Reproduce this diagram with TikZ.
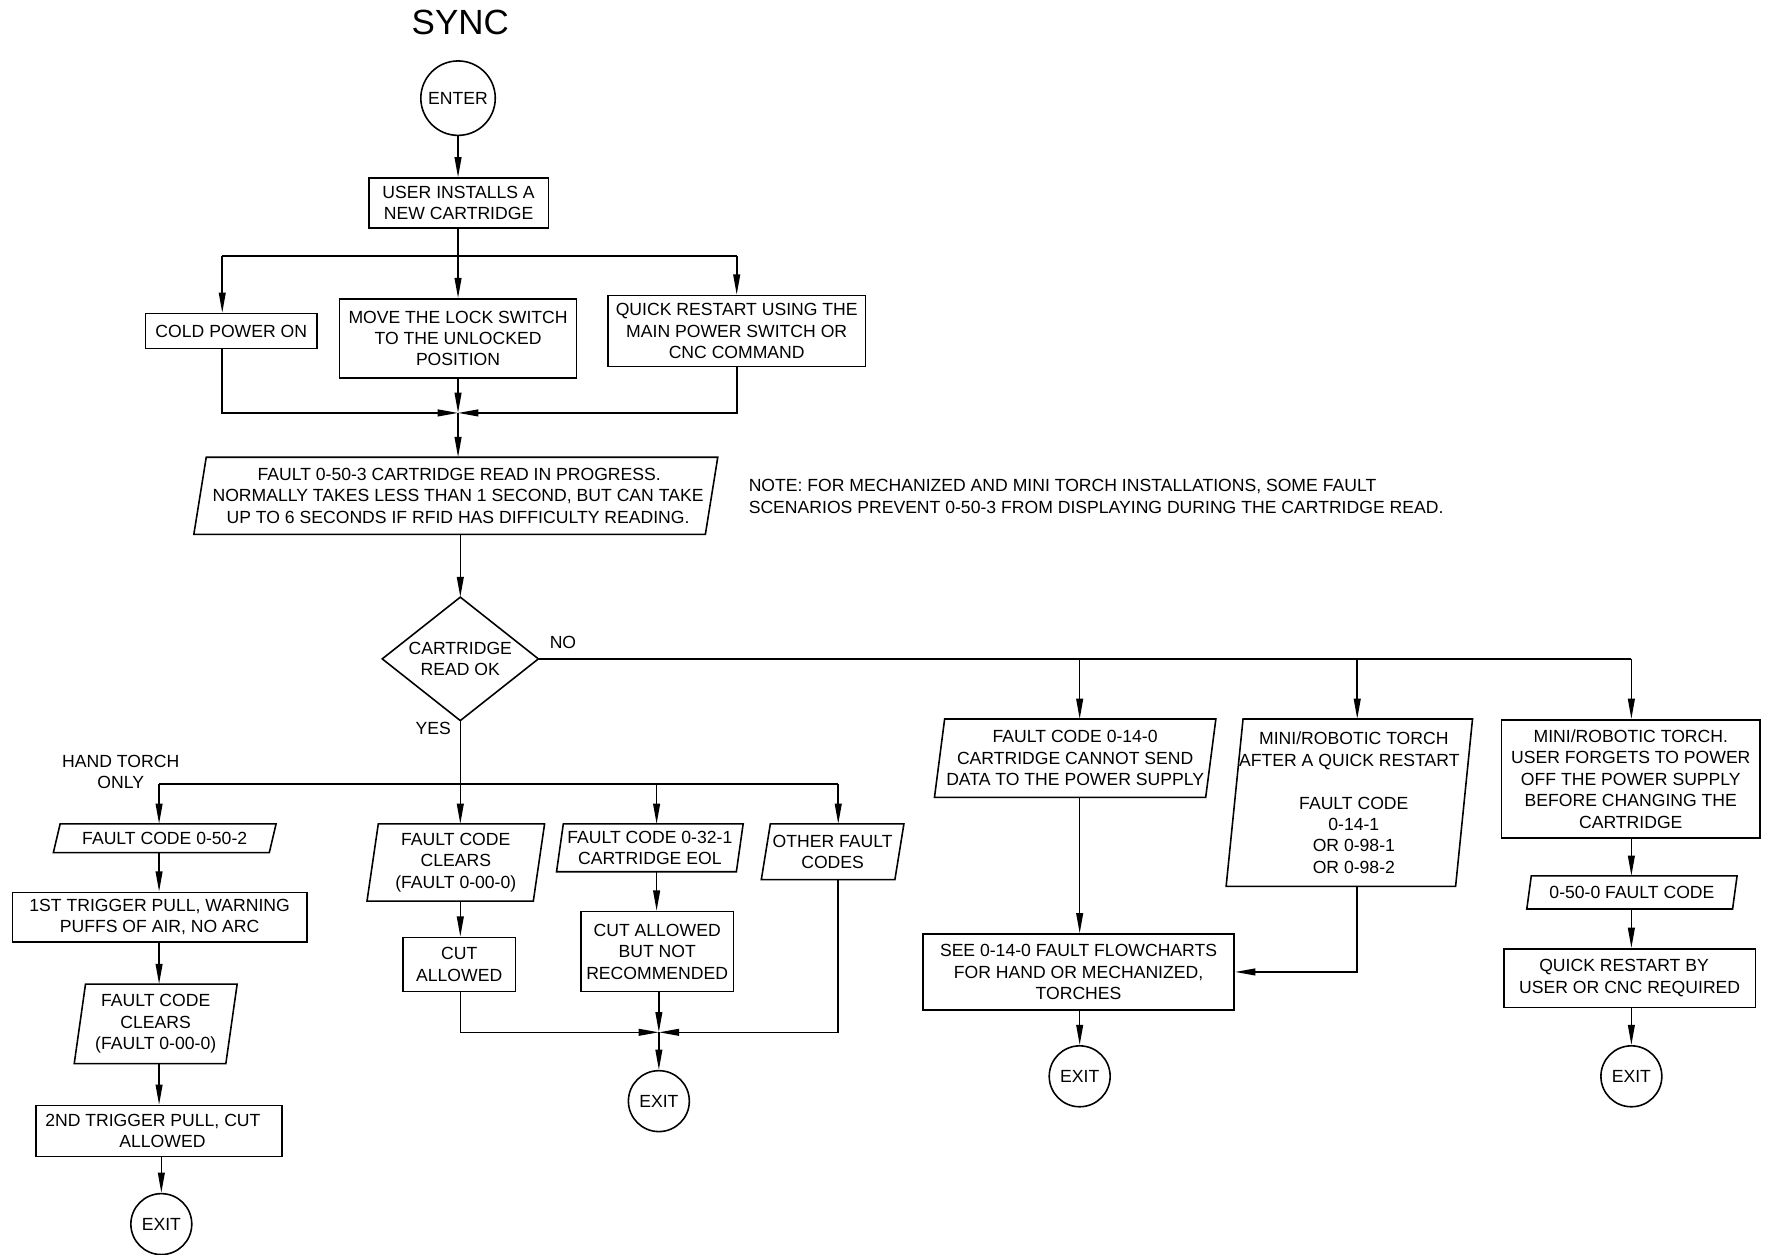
\documentclass[tikz,border=0pt]{standalone}
\usepackage{fontspec}
\setmainfont{Liberation Sans}
\usetikzlibrary{arrows.meta,shapes.geometric,calc}
\newcommand\mainfs{\fontsize{15.6}{19}\selectfont}
\newcommand\paradraw[2]{\draw ([xshift=#2pt]#1.north west) -- ([xshift=#2pt]#1.north east) -- ([xshift=-#2pt]#1.south east) -- ([xshift=-#2pt]#1.south west) -- cycle;}
\begin{document}
\begin{tikzpicture}[x=1pt,y=-1pt,line width=1.4pt,
  every node/.style={font=\mainfs,align=center,inner sep=0pt},
  box/.style={draw,rectangle},
  para/.style={rectangle},
  term/.style={draw,circle},
  arr/.style={-{Triangle[length=18pt,width=6pt]}}]
\useasboundingbox (0,0) rectangle (1568,1112);

% title
\node (title) at (408,20) {\fontsize{31}{37}\selectfont SYNC};

% top part
\node[term,minimum size=66pt] (enter) at (406,87) {ENTER};
\node[box,minimum width=159pt,minimum height=44pt] (install) at (406.5,180) {USER INSTALLS A\\NEW CARTRIDGE};
\node[box,minimum width=152pt,minimum height=31pt] (cold) at (205,293.5) {COLD POWER ON};
\node[box,minimum width=210pt,minimum height=70pt] (move) at (406,300) {MOVE THE LOCK SWITCH\\TO THE UNLOCKED\\POSITION};
\node[box,minimum width=228pt,minimum height=63pt] (quick) at (653,293.5) {QUICK RESTART USING THE\\MAIN POWER SWITCH OR\\CNC COMMAND};
\node[para,minimum width=452pt,minimum height=67pt] (p503) at (404,439.5) {\hspace*{6pt}FAULT 0-50-3 CARTRIDGE READ IN PROGRESS.\\\hspace*{4pt}NORMALLY TAKES LESS THAN 1 SECOND, BUT CAN TAKE\\\hspace*{4pt}UP TO 6 SECONDS IF RFID HAS DIFFICULTY READING.};
\paradraw{p503}{5.5}
\node[anchor=west,align=left] (note) at (663,440) {NOTE: FOR MECHANIZED AND MINI TORCH INSTALLATIONS, SOME FAULT\\SCENARIOS PREVENT 0-50-3 FROM DISPLAYING DURING THE CARTRIDGE READ.};

% decision
\node[rectangle,minimum width=137pt,minimum height=108pt] (dia) at (408,584) {CARTRIDGE\\READ OK};
\draw (dia.north) -- (dia.east) -- (dia.south) -- (dia.west) -- cycle;
\node (no) at (499,569) {NO};
\node (yes) at (384,646) {YES};
\node (hand) at (107,684) {HAND TORCH\\ONLY};

% left column
\node[para,minimum width=190pt,minimum height=24pt] (p502) at (146,743) {FAULT CODE 0-50-2};
\paradraw{p502}{3}
\node[box,minimum width=261pt,minimum height=44pt] (trig1) at (141.5,813) {1ST TRIGGER PULL, WARNING\\PUFFS OF AIR, NO ARC};
\node[para,minimum width=133pt,minimum height=69pt] (pfl) at (138,907.5) {FAULT CODE\\CLEARS\\(FAULT 0-00-0)};
\paradraw{pfl}{5}
\node[box,minimum width=218pt,minimum height=45pt] (trig2) at (141,1002.5) {2ND TRIGGER PULL, CUT\hspace*{11pt}\\\hspace*{6pt}ALLOWED};
\node[term,minimum size=54pt] (exit1) at (143,1085) {EXIT};

% middle columns
\node[para,minimum width=146pt,minimum height=67pt] (pfm) at (404,764.5) {FAULT CODE\\CLEARS\\(FAULT 0-00-0)};
\paradraw{pfm}{5}
\node[box,minimum width=100pt,minimum height=48pt] (cut) at (407,855) {CUT\\ALLOWED};
\node[para,minimum width=158pt,minimum height=41pt] (p321) at (576,751.5) {FAULT CODE 0-32-1\\CARTRIDGE EOL};
\paradraw{p321}{3}
\node[box,minimum width=135pt,minimum height=71pt] (cutnr) at (582.5,843.5) {CUT ALLOWED\\BUT NOT\\RECOMMENDED};
\node[para,minimum width=117pt,minimum height=48pt] (poth) at (738,755) {OTHER FAULT\\CODES};
\paradraw{poth}{4}
\node[term,minimum size=54pt] (exit2) at (584,976) {EXIT};

% right columns
\node[para,minimum width=239pt,minimum height=68pt] (p140) at (953,672) {FAULT CODE 0-14-0\\CARTRIDGE CANNOT SEND\\DATA TO THE POWER SUPPLY};
\paradraw{p140}{4.5}
\node[box,minimum width=276pt,minimum height=67pt] (see) at (956,861.5) {SEE 0-14-0 FAULT FLOWCHARTS\\FOR HAND OR MECHANIZED,\\TORCHES};
\node[term,minimum size=54pt] (exit3) at (957,954) {EXIT};
\node[para,minimum width=202pt,minimum height=147pt] (pmini) at (1196,711.5) {\hspace*{8pt}MINI/ROBOTIC TORCH\\AFTER A QUICK RESTART\\[19pt]\hspace*{8pt}FAULT CODE\\\hspace*{8pt}0-14-1\\\hspace*{8pt}OR 0-98-1\\\hspace*{8pt}OR 0-98-2};
\paradraw{pmini}{7.5}
\node[box,minimum width=229pt,minimum height=105pt] (forget) at (1445.5,690.5) {MINI/ROBOTIC TORCH.\\USER FORGETS TO POWER\\OFF THE POWER SUPPLY\\BEFORE CHANGING THE\\CARTRIDGE};
\node[para,minimum width=181pt,minimum height=28pt] (p500) at (1446.5,791) {0-50-0 FAULT CODE};
\paradraw{p500}{2}
\node[box,minimum width=223pt,minimum height=52pt] (qr) at (1444.5,867) {QUICK RESTART BY\hspace*{10pt}\\USER OR CNC REQUIRED};
\node[term,minimum size=54pt] (exit4) at (1446,954) {EXIT};

% junction coordinates
\coordinate (j1) at (406,227);
\coordinate (b1L) at (197,227);
\coordinate (b1R) at (653,227);
\coordinate (j2) at (406,366);
\coordinate (nR) at (1446,584);
\coordinate (n1) at (957,584);
\coordinate (n2) at (1203,584);
\coordinate (yL) at (141,695);
\coordinate (y3) at (582,695);
\coordinate (yR) at (743,695);
\coordinate (j3) at (584,915);

% connectors top
\draw[arr] (enter.south) -- (enter.south |- install.north);
\draw (j1 |- install.south) -- (j1);
\draw (b1L) -- (b1R);
\draw[arr] (b1L) -- (b1L |- cold.north);
\draw[arr] (j1) -- (j1 |- move.north);
\draw[arr] (b1R) -- (b1R |- quick.north);
\draw[arr] (b1L |- cold.south) |- (j2);
\draw[arr] (b1R |- quick.south) |- (j2);
\draw[arr] (j2 |- move.south) -- (j2);
\draw[arr] (j2) -- (j2 |- p503.north);
\draw[arr] (dia.north |- p503.south) -- (dia.north);

% NO branch
\draw (dia.east) -- (nR);
\draw[arr] (n1) -- (n1 |- p140.north);
\draw[arr] (n2) -- (n2 |- pmini.north);
\draw[arr] (nR) -- (nR |- forget.north);
\draw[arr] (n1 |- p140.south) -- (n1 |- see.north);
\draw[arr] (n1 |- see.south) -- (exit3.north);
\draw[arr] (n2 |- pmini.south) |- (see.east);
\draw[arr] (nR |- forget.south) -- (nR |- p500.north);
\draw[arr] (nR |- p500.south) -- (nR |- qr.north);
\draw[arr] (nR |- qr.south) -- (exit4.north);

% YES branch
\draw[arr] (dia.south) -- (dia.south |- pfm.north);
\draw (yL) -- (yR);
\draw[arr] (yL) -- (yL |- p502.north);
\draw[arr] (y3) -- (y3 |- p321.north);
\draw[arr] (yR) -- (yR |- poth.north);
\draw[arr] (yL |- p502.south) -- (yL |- trig1.north);
\draw[arr] (yL |- trig1.south) -- (yL |- pfl.north);
\draw[arr] (yL |- pfl.south) -- (yL |- trig2.north);
\draw[arr] (exit1.north |- trig2.south) -- (exit1.north);
\draw[arr] (dia.south |- pfm.south) -- (dia.south |- cut.north);
\draw[arr] (dia.south |- cut.south) |- (j3);
\draw[arr] (y3 |- p321.south) -- (y3 |- cutnr.north);
\draw[arr] (j3 |- cutnr.south) -- (j3);
\draw[arr] (yR |- poth.south) |- (j3);
\draw[arr] (j3) -- (exit2.north);
\end{tikzpicture}
\end{document}
